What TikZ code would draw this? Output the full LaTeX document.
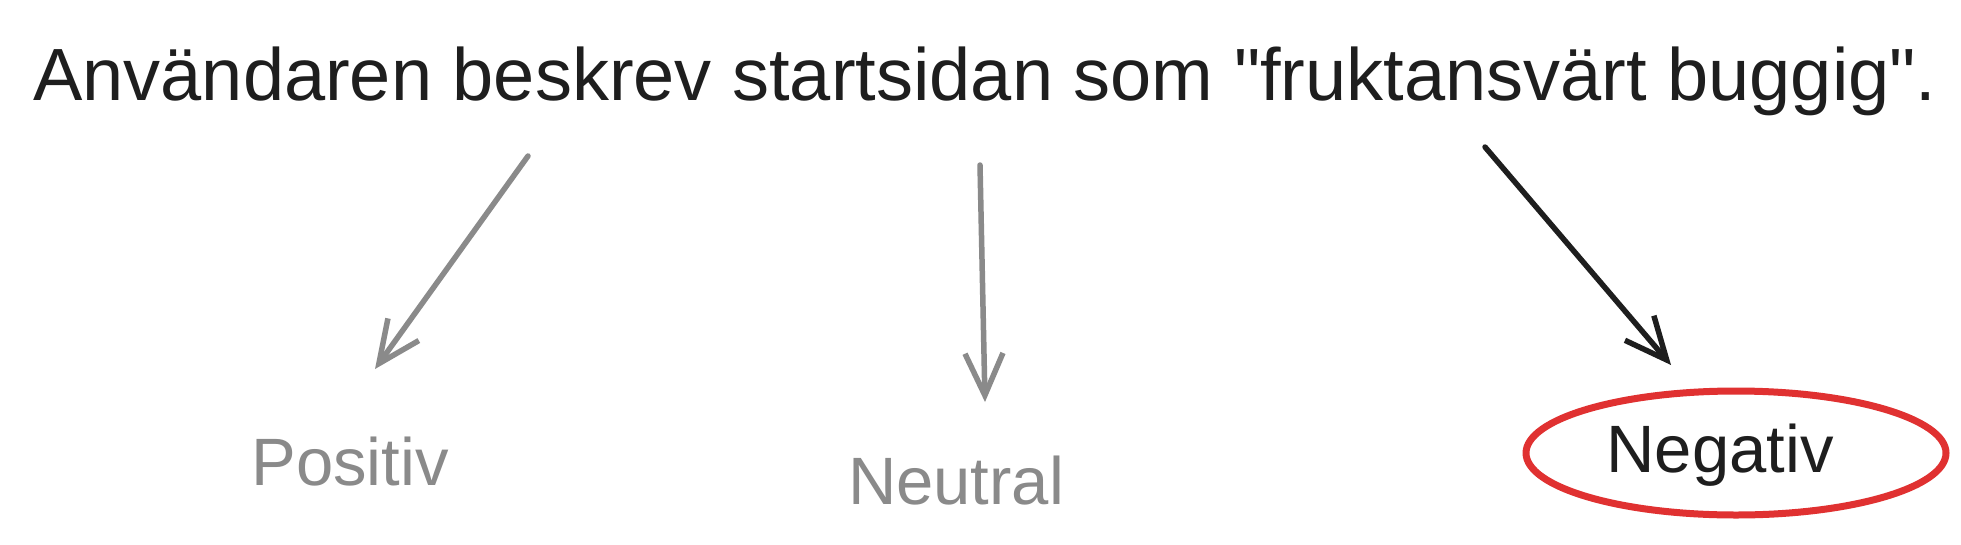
\documentclass[tikz,border=0pt]{standalone}
\usepackage{fontspec}
\setmainfont{Liberation Sans}[Ligatures=TeXOff]
\usetikzlibrary{arrows.meta}
\definecolor{ink}{HTML}{1E1E1E}
\definecolor{soft}{HTML}{8A8A8A}
\definecolor{redink}{HTML}{E03131}
\begin{document}
\begin{tikzpicture}[x=1pt,y=-1pt,
  titletext/.style={font=\fontsize{74}{82}\selectfont, text=ink, inner sep=0pt, anchor=base},
  labeltext/.style={font=\fontsize{67}{76}\selectfont, inner sep=0pt, anchor=base},
  conn/.style={line width=5.5pt, line cap=round, line join=round,
    -{Straight Barb[length=42pt,width=38pt]}},
  ring/.style={draw=redink, line width=7pt, line cap=round, line join=round}]
\useasboundingbox (0,0) rectangle (1961,544);
\fill[white] (0,0) rectangle (1961,544);

\node[titletext] (title) at (985,100) {Användaren beskrev startsidan som "fruktansvärt buggig".};

\node[labeltext, text=soft] (pos) at (350,485) {Positiv};
\node[labeltext, text=soft] (neu) at (956,504) {Neutral};
\node[labeltext, text=ink] (neg) at (1720,472) {Negativ};
\draw[ring] (1736,453) ellipse [x radius=210pt, y radius=62pt];

\coordinate (s1) at (528,156);
\coordinate (e1) at (375,369);
\coordinate (s2) at (980,165);
\coordinate (e2) at (985,402);
\coordinate (s3) at (1485,147);
\coordinate (e3) at (1671,365);

\draw[conn, soft] (s1) -- (e1);
\draw[conn, soft] (s2) -- (e2);
\draw[conn, ink] (s3) -- (e3);
\end{tikzpicture}
\end{document}
